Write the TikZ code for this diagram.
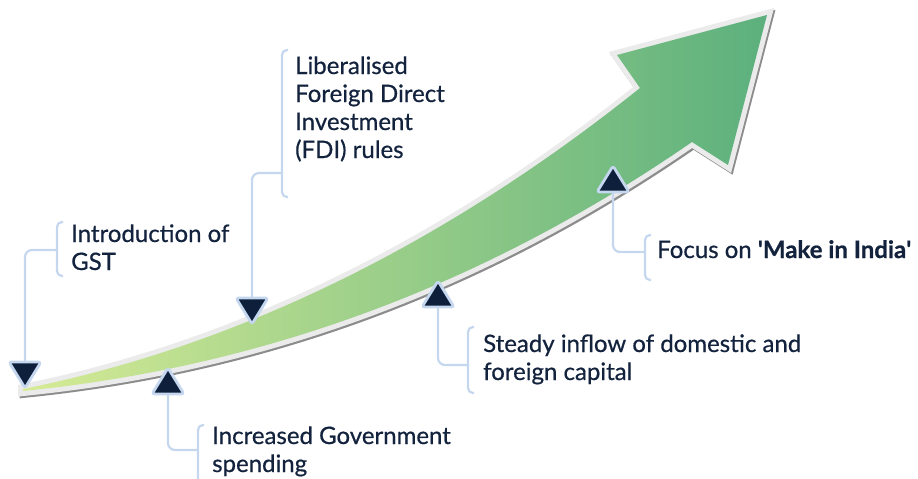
\documentclass[tikz,border=0pt]{standalone}
\usepackage{fontspec}
\setmainfont{Lato}[UprightFeatures={FakeBold=0.6},BoldFeatures={FakeBold=0.8}]
\usetikzlibrary{calc}
\definecolor{navy}{HTML}{0E1F3B}
\definecolor{txt}{HTML}{13233D}
\definecolor{connblue}{HTML}{C5D7EE}
\definecolor{bordergray}{HTML}{EBEBEB}
\definecolor{shadowgray}{HTML}{8C8C8C}
\definecolor{gleft}{HTML}{D6EB95}
\definecolor{gmid}{HTML}{8FCB87}
\definecolor{gright}{HTML}{5CB07D}
\newcommand{\arrowshape}{(23,391) .. controls (273,366) and (492,280) .. (692,142) -- (728,165) -- (767,15) -- (617,55) -- (640,88) .. controls (450,240) and (243,345) .. (23,389) -- cycle}
\begin{document}
\begin{tikzpicture}[x=1pt,y=-1pt,
  conn/.style={draw=connblue,line width=2.2pt,rounded corners=7pt},
  brk/.style={draw=connblue,line width=2.2pt,rounded corners=5pt},
  tri/.style={fill=navy,draw=connblue,line width=2.8pt,rounded corners=2.5pt,line join=round},
  lbl/.style={anchor=base west,inner sep=0pt,align=left,text=txt,font=\fontsize{24}{28}\selectfont}]
\useasboundingbox (0,0) rectangle (918,479);
% arrow
\fill[shadowgray,draw=shadowgray,line width=10pt,line join=miter,shift={(1.5,1.8)}] \arrowshape;
\fill[bordergray,draw=bordergray,line width=10pt,line join=miter] \arrowshape;
\shade[left color=gleft,middle color=gmid,right color=gright] \arrowshape;
% triangle anchors
\coordinate (t1) at (25,374);
\coordinate (t2) at (252,310);
\coordinate (t3) at (168,382);
\coordinate (t4) at (438,295);
\coordinate (t5) at (613,180);
% bracket points (where connectors meet)
\coordinate (b1) at (57,250);
\coordinate (b2) at (282,173);
\coordinate (b3) at (198,450);
\coordinate (b4) at (468,365);
\coordinate (b5) at (645,252);
% connectors
\draw[conn] ($(t1)+(0,-12)$) |- (b1);
\draw[conn] ($(t2)+(0,-12)$) |- (b2);
\draw[conn] ($(t3)+(0,12)$) |- (b3);
\draw[conn] ($(t4)+(0,12)$) |- (b4);
\draw[conn] ($(t5)+(0,12)$) |- (b5);
% brackets
\draw[brk] (63,222) -- (57,222) -- (57,276) -- (63,276);
\draw[brk] (288,50) -- (282,50) -- (282,197) -- (288,197);
\draw[brk] (204,425) -- (198,425) -- (198,490);
\draw[brk] (474,327) -- (468,327) -- (468,393) -- (474,393);
\draw[brk] (651,235) -- (645,235) -- (645,280) -- (651,280);
% triangles
\draw[tri] ($(t1)+(-16,-12)$) -- ($(t1)+(16,-12)$) -- ($(t1)+(0,14)$) -- cycle;
\draw[tri] ($(t2)+(-16,-12)$) -- ($(t2)+(16,-12)$) -- ($(t2)+(0,14)$) -- cycle;
\draw[tri] ($(t3)+(-16,12)$) -- ($(t3)+(16,12)$) -- ($(t3)+(0,-14)$) -- cycle;
\draw[tri] ($(t4)+(-16,12)$) -- ($(t4)+(16,12)$) -- ($(t4)+(0,-14)$) -- cycle;
\draw[tri] ($(t5)+(-16,12)$) -- ($(t5)+(16,12)$) -- ($(t5)+(0,-14)$) -- cycle;
% labels (anchor = baseline of last line)
\node[lbl] (l1) at (71,270) {Introduction of\\GST};
\node[lbl] (l2) at (295,158) {Liberalised\\Foreign Direct\\Investment\\(FDI) rules};
\node[lbl] (l3) at (212,472) {Increased Government\\spending};
\node[lbl] (l4) at (483,380) {Steady inflow of domestic and\\foreign capital};
\node[lbl] (l5) at (657,258) {Focus on \textbf{\textquotesingle Make in India\textquotesingle}};
\end{tikzpicture}
\end{document}
